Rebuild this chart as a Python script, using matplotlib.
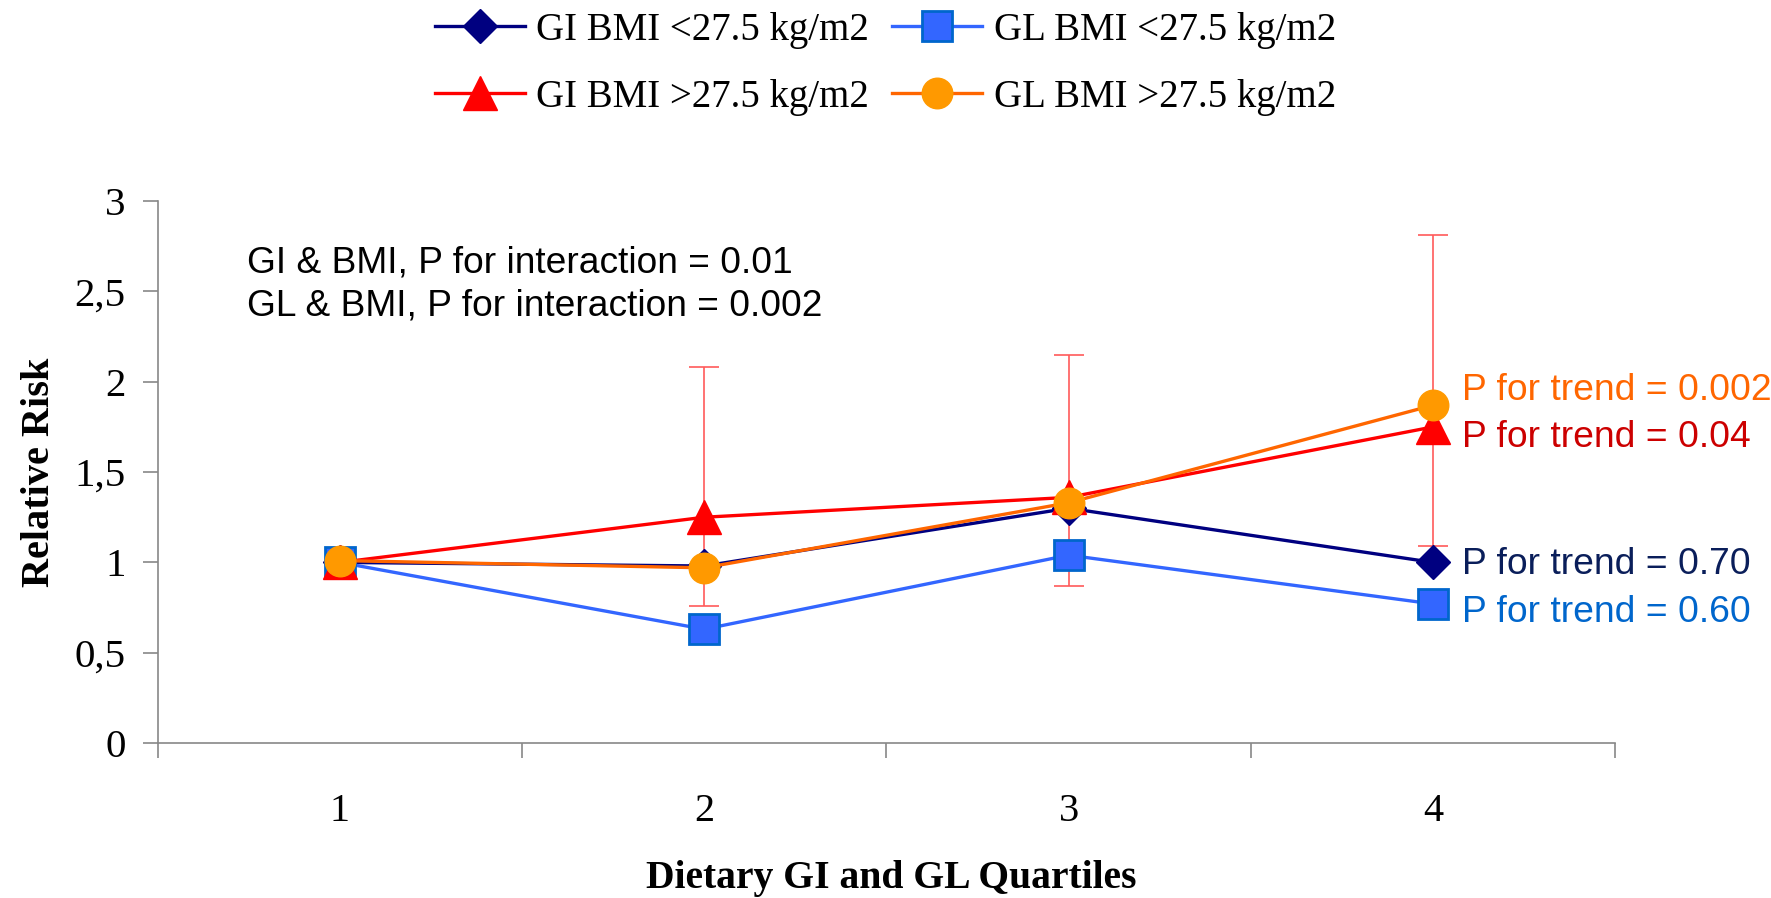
import numpy as np
import matplotlib
matplotlib.use("Agg")
import matplotlib.pyplot as plt
from matplotlib.ticker import FixedLocator, FuncFormatter

quartiles = [1, 2, 3, 4]
gi_low = [1.00, 0.98, 1.30, 1.00]
gl_low = [1.00, 0.63, 1.04, 0.77]
gi_high = [1.00, 1.25, 1.36, 1.75]
gl_high = [1.01, 0.97, 1.33, 1.87]
gi_high_lo = [1.00, 0.76, 0.87, 1.09]
gi_high_hi = [1.00, 2.08, 2.15, 2.81]

trend_labels = ["P for trend = 0.002", "P for trend = 0.04",
                "P for trend = 0.70", "P for trend = 0.60"]
trend_y = [1.95, 1.69, 0.99, 0.72]
trend_colors = ["#FF6600", "#CC0000", "#0A1E5A", "#0066CC"]

serif = "Liberation Serif"
sans = "Liberation Sans"


def draw():
  fig = plt.figure(figsize=(17.71, 8.98), dpi=100)
  ax = fig.add_axes([0.089, 0.1726, 0.823, 0.6034])
  x = np.array(quartiles)

  # error bars (GI BMI > 27.5 only)
  lo = np.array(gi_high) - np.array(gi_high_lo)
  hi = np.array(gi_high_hi) - np.array(gi_high)
  ax.errorbar(x[1:], np.array(gi_high)[1:], yerr=[lo[1:], hi[1:]], fmt='none',
              ecolor="#FF5A5A", elinewidth=1.2, capsize=11, capthick=1.2, zorder=1)

  l1, = ax.plot(x, gi_low, color="#000080", lw=2.4, marker='D', markersize=17,
                mfc="#000080", mec="#000080", label="GI BMI <27.5 kg/m2", zorder=3)
  l2, = ax.plot(x, gl_low, color="#3366FF", lw=2.4, marker='s', markersize=22,
                mfc="#3366FF", mec="#0066CC", mew=2, label="GL BMI <27.5 kg/m2", zorder=3)
  l3, = ax.plot(x, gi_high, color="#FF0000", lw=2.4, marker='^', markersize=24,
                mfc="#FF0000", mec="#FF0000", label="GI BMI >27.5 kg/m2", zorder=4)
  l4, = ax.plot(x, gl_high, color="#FF6600", lw=2.4, marker='o', markersize=22,
                mfc="#FF9900", mec="#FF9900", label="GL BMI >27.5 kg/m2", zorder=5)

  # axes
  ax.set_xlim(0.5, 4.5)
  ax.set_ylim(0, 3)
  ax.set_xticks(quartiles)
  ax.set_xticklabels([str(q) for q in quartiles], family=serif, fontsize=29)
  ax.xaxis.set_minor_locator(FixedLocator([0.5, 1.5, 2.5, 3.5, 4.5]))
  ax.tick_params(axis='x', which='major', length=0, pad=36)
  ax.tick_params(axis='x', which='minor', length=11, color="#888888", width=1.2)
  ax.set_yticks(np.arange(0, 3.01, 0.5))
  ax.yaxis.set_major_formatter(FuncFormatter(lambda v, p: ("%g" % v).replace('.', ',')))
  ax.tick_params(axis='y', length=11, color="#888888", width=1.2, pad=12)
  for lab in ax.get_yticklabels():
    lab.set_family(serif)
    lab.set_fontsize(29.5)
  for s in ['top', 'right']:
    ax.spines[s].set_visible(False)
  for s in ['left', 'bottom']:
    ax.spines[s].set_color("#888888")
    ax.spines[s].set_linewidth(1.2)

  ax.set_ylabel("Relative Risk", family=serif, fontweight='bold', fontsize=29, labelpad=12)
  fig.text(0.503, 0.022, "Dietary GI and GL Quartiles", family=serif, fontweight='bold',
           fontsize=28.5, ha='center', va='center')

  # annotations
  ax.text(0.745, 2.66, "GI & BMI, P for interaction = 0.01", family=sans, fontsize=26.7,
          va='center', ha='left')
  ax.text(0.745, 2.42, "GL & BMI, P for interaction = 0.002", family=sans, fontsize=26.7,
          va='center', ha='left')
  for lab, yy, c in zip(trend_labels, trend_y, trend_colors):
    ax.text(4.08, yy, lab, family=sans, fontsize=26.8, color=c, va='center', ha='left')

  # legend
  fig.legend(handles=[l1, l3, l2, l4], ncol=2, loc='upper center',
             bbox_to_anchor=(0.5, 1.026), frameon=False, handlelength=2.3,
             handletextpad=0.3, columnspacing=0.6, labelspacing=0.78,
             prop={'family': serif, 'size': 28})

  fig.savefig("out.png", dpi=100)


if __name__ == '__main__':
  draw()
